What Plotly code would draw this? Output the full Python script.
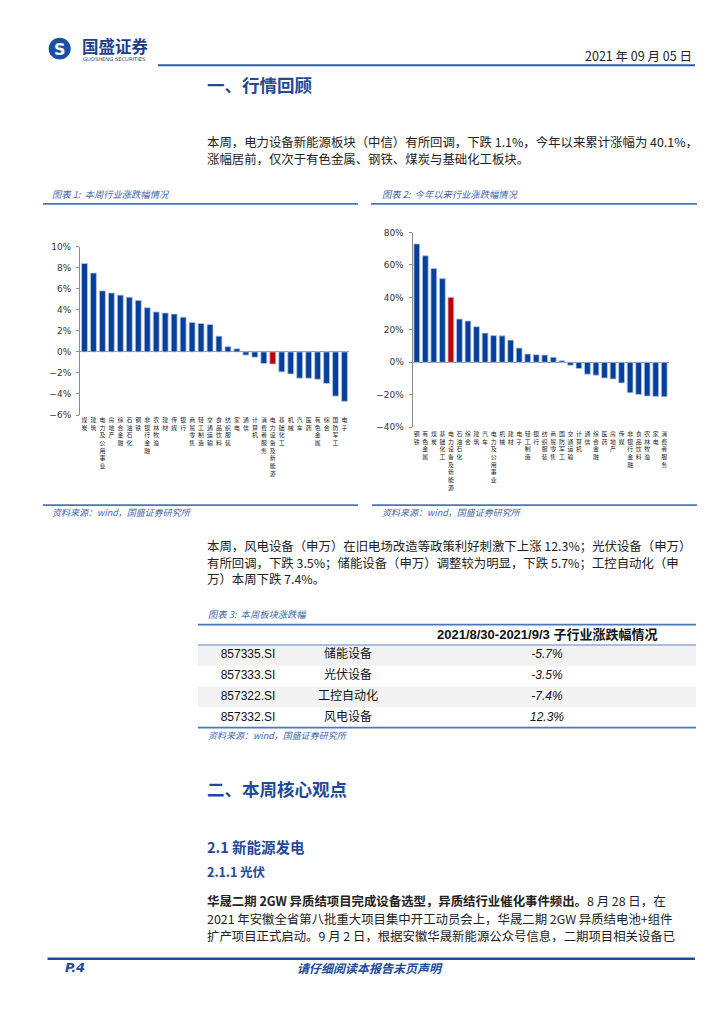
import plotly.graph_objects as go

W, H = 724, 1024

# ---------------- data ----------------
week_categories = ["煤炭", "建筑", "电力及公用事业", "房地产", "综合金融", "石油石化", "钢铁",
                   "非银行金融", "农林牧渔", "建材", "传媒", "银行", "商贸零售", "轻工制造",
                   "交通运输", "食品饮料", "纺织服装", "家电", "通信", "计算机", "消费者服务",
                   "电力设备及新能源", "基础化工", "机械", "汽车", "医药", "有色金属", "综合",
                   "国防军工", "电子"]
week_values = [8.4, 7.5, 5.8, 5.6, 5.4, 5.2, 4.9, 4.2, 3.8, 3.7, 3.6, 3.3, 2.8, 2.7, 2.6,
               1.5, 0.5, 0.3, -0.3, -0.5, -1.1, -1.15, -1.9, -2.1, -2.5, -2.5, -2.6, -3.0,
               -4.2, -4.7]

ytd_categories = ["钢铁", "有色金属", "煤炭", "基础化工", "电力设备及新能源", "石油石化", "综合",
                  "建筑", "汽车", "电力及公用事业", "机械", "建材", "电子", "轻工制造", "银行",
                  "纺织服装", "商贸零售", "国防军工", "交通运输", "计算机", "通信", "综合金融",
                  "医药", "房地产", "传媒", "非银行金融", "食品饮料", "农林牧渔", "家电",
                  "消费者服务"]
ytd_values = [73.0, 65.7, 57.8, 51.6, 40.1, 26.7, 25.5, 22.0, 18.0, 16.5, 16.3, 13.7, 8.8,
              5.1, 4.7, 4.5, 3.1, 1.0, -1.8, -3.8, -7.3, -7.9, -9.7, -10.3, -12.7, -18.8,
              -19.8, -20.8, -21.0, -21.2]

highlight = "电力设备及新能源"

table_codes = ["857335.SI", "857333.SI", "857322.SI", "857332.SI"]
table_names = ["储能设备", "光伏设备", "工控自动化", "风电设备"]
table_values = [-5.7, -3.5, -7.4, 12.3]
table_header = "2021/8/30-2021/9/3 子行业涨跌幅情况"

# ---------------- style ----------------
BLUE = "#06409B"
RED = "#C00000"
HEAD = "#214A9A"
CAP = "#3D66AE"
TXT = "#222222"
CJK = "Noto Sans CJK SC"
SANS = "Liberation Sans, Noto Sans CJK SC"
COL_WIDTHS = [100, 100, 298]


def px(x):
    return x / W


def py(y):
    return 1 - y / H


def vert(s):
    return "<br>".join(list(s))


fig = go.Figure()

fig.add_trace(go.Bar(
    x=week_categories, y=week_values, xaxis="x", yaxis="y",
    marker=dict(color=[RED if c == highlight else BLUE for c in week_categories],
                line=dict(color="#b9c7e2", width=0.8)),
    width=0.66, hoverinfo="skip"))

fig.add_trace(go.Bar(
    x=ytd_categories, y=ytd_values, xaxis="x2", yaxis="y2",
    marker=dict(color=[RED if c == highlight else BLUE for c in ytd_categories],
                line=dict(color="#b9c7e2", width=0.8)),
    width=0.68, hoverinfo="skip"))

# ---- table drawn on its own hidden axes ----
col_centers = []
acc = 0
for w in COL_WIDTHS:
    col_centers.append(acc + w / 2)
    acc += w
rows = list(range(len(table_codes)))
table_cols = [
    (table_codes, dict(size=12, family=SANS, color="#111")),
    (table_names, dict(size=12, family=CJK, color="#111")),
    (["<i>%.1f%%</i>" % v for v in table_values], dict(size=12, family=SANS, color="#111")),
]
for (vals, fnt), cx in zip(table_cols, col_centers):
    fig.add_trace(go.Scatter(x=[cx] * len(vals), y=rows, text=vals, mode="text",
                             textposition="middle center", textfont=fnt,
                             xaxis="x3", yaxis="y3", hoverinfo="skip"))

axis_common = dict(showgrid=False, tickfont=dict(size=9, family="DejaVu Sans", color="#333"))

fig.update_layout(
    width=W, height=H, margin=dict(l=0, r=0, t=0, b=0),
    paper_bgcolor="white", plot_bgcolor="white", showlegend=False, bargap=0.3,
    xaxis=dict(domain=[px(72), px(341)], anchor="y", type="category",
               range=[-0.5, 29.5], showline=False, showgrid=False, ticks="",
               tickmode="array", tickvals=week_categories,
               ticktext=[vert(c) for c in week_categories], tickangle=0,
               ticklabelstandoff=0,
               tickfont=dict(size=5.9, family=CJK, color="#222"), fixedrange=True),
    yaxis=dict(domain=[py(406), py(236)], anchor="x", range=[-6, 10], dtick=2, tick0=0,
               ticksuffix="%", zeroline=True, zerolinecolor="#999", zerolinewidth=1,
               showline=True, linecolor="#8c8c8c", linewidth=1, ticks="outside",
               ticklen=3, tickcolor="#8c8c8c", ticklabelstandoff=3, **axis_common),
    xaxis2=dict(domain=[px(404.5), px(660.5)], anchor="y2", type="category",
                range=[-0.5, 29.5], showline=False, showgrid=False, ticks="",
                tickmode="array", tickvals=ytd_categories,
                ticktext=[vert(c) for c in ytd_categories], tickangle=0,
                ticklabelstandoff=2,
                tickfont=dict(size=5.9, family=CJK, color="#222"), fixedrange=True),
    yaxis2=dict(domain=[py(418.3), py(221.7)], anchor="x2", range=[-40, 80], dtick=20,
                tick0=0, ticksuffix="%", zeroline=True, zerolinecolor="#999",
                zerolinewidth=1, showline=True, linecolor="#8c8c8c", linewidth=1,
                ticks="outside", ticklen=3, tickcolor="#8c8c8c", ticklabelstandoff=3,
                **axis_common),
    xaxis3=dict(domain=[px(190), px(688)], anchor="y3", range=[0, sum(COL_WIDTHS)],
                visible=False, fixedrange=True),
    yaxis3=dict(domain=[py(722), py(638.3)], anchor="x3",
                range=[len(table_codes) - 0.5, -0.5], visible=False, fixedrange=True),
)

annotations = []


def text(x, y, s, size, color=TXT, family=CJK, xanchor="left"):
    annotations.append(dict(x=px(x), y=py(y), xref="paper", yref="paper", text=s,
                            showarrow=False, xanchor=xanchor, yanchor="middle",
                            font=dict(size=size, color=color, family=family)))


# header
text(51.7, 36.5, "<b>S</b>", 16, "white", "DejaVu Sans", "center")
text(72, 33.5, "<b>国盛证券</b>", 16.5, "#1B3F8F")
text(73, 46.5, "GUOSHENG SECURITIES", 5.2, "#444", "DejaVu Sans")
text(686, 43, "2021 年 09 月 05 日", 12.5, TXT, CJK, "right")

text(197, 72, "<b>一、行情回顾</b>", 17.5, HEAD)
text(197, 130, "本周，电力设备新能源板块（中信）有所回调，下跌 1.1%，今年以来累计涨幅为 40.1%，", 12.4)
text(197, 147.5, "涨幅居前，仅次于有色金属、钢铁、煤炭与基础化工板块。", 12.4)

text(42, 182.7, "<i>图表 1:  本周行业涨跌幅情况</i>", 9.3, CAP)
text(372, 182.7, "<i>图表 2:  今年以来行业涨跌幅情况</i>", 9.3, CAP)
text(42, 504.5, "<i>资料来源：wind，国盛证券研究所</i>", 9, CAP)
text(372, 504.5, "<i>资料来源：wind，国盛证券研究所</i>", 9, CAP)

text(197, 538, "本周，风电设备（申万）在旧电场改造等政策利好刺激下上涨 12.3%；光伏设备（申万）", 12.4)
text(197, 555, "有所回调，下跌 3.5%；储能设备（申万）调整较为明显，下跌 5.7%；工控自动化（申", 12.4)
text(197, 572, "万）本周下跌 7.4%。", 12.4)

text(198, 606.7, "<i>图表 3:  本周板块涨跌幅</i>", 9.3, CAP)
annotations.append(dict(x=col_centers[2], xref="x3", y=py(628), yref="paper",
                        text="<b>" + table_header + "</b>", showarrow=False,
                        xanchor="center", yanchor="middle",
                        font=dict(size=13, family=SANS, color="#111")))
text(198, 729.5, "<i>资料来源：wind，国盛证券研究所</i>", 9, CAP)

text(197, 783, "<b>二、本周核心观点</b>", 17.5, HEAD)
text(197, 841.7, "<b>2.1 新能源发电</b>", 14.5, HEAD)
text(197, 866.7, "<b>2.1.1 光伏</b>", 12.5, HEAD)

text(197, 897, "<b>华晟二期 2GW 异质结项目完成设备选型，异质结行业催化事件频出。</b>8 月 28 日，在", 12.4)
text(197, 914.5, "2021 年安徽全省第八批重大项目集中开工动员会上，华晟二期 2GW 异质结电池+组件", 12.4)
text(197, 932, "扩产项目正式启动。9 月 2 日，根据安徽华晟新能源公众号信息，二期项目相关设备已", 12.4)

text(55, 964, "<b><i>P.4</i></b>", 13, HEAD, "DejaVu Sans")
text(362, 964, "<b><i>请仔细阅读本报告末页声明</i></b>", 12, HEAD, CJK, "center")

shapes = []


def hline(x0, x1, y, color, width):
    shapes.append(dict(type="line", xref="paper", yref="paper", x0=px(x0), x1=px(x1),
                       y0=py(y), y1=py(y), line=dict(color=color, width=width)))


# table row shading
for r in rows:
    if r % 2 == 0:
        shapes.append(dict(type="rect", xref="x3", yref="y3", x0=0, x1=sum(COL_WIDTHS),
                           y0=r - 0.5, y1=r + 0.5, fillcolor="#F2F2F2",
                           line=dict(width=0), layer="below"))

# logo circle
shapes.append(dict(type="circle", xref="paper", yref="paper", x0=px(40.7), x1=px(62.7),
                   y0=py(47), y1=py(25), fillcolor="#1B4FA3", line=dict(width=0),
                   layer="below"))
hline(150, 687, 52.7, "#2E5AAC", 2)
hline(35, 350, 192.7, "#4A76BF", 1.8)
hline(363, 689, 192.7, "#4A76BF", 1.8)
hline(35, 350, 497, "#4A76BF", 1.8)
hline(364, 689, 497, "#4A76BF", 1.8)
hline(190, 688, 617.7, "#4A76BF", 1.6)
hline(190, 688, 638.3, "#8FAAD9", 1.4)
hline(190, 688, 721.7, "#4A76BF", 1.6)
hline(39.5, 687, 955, "#1F4E9C", 2.5)

fig.update_layout(annotations=annotations, shapes=shapes)

fig.write_html("out.html")
